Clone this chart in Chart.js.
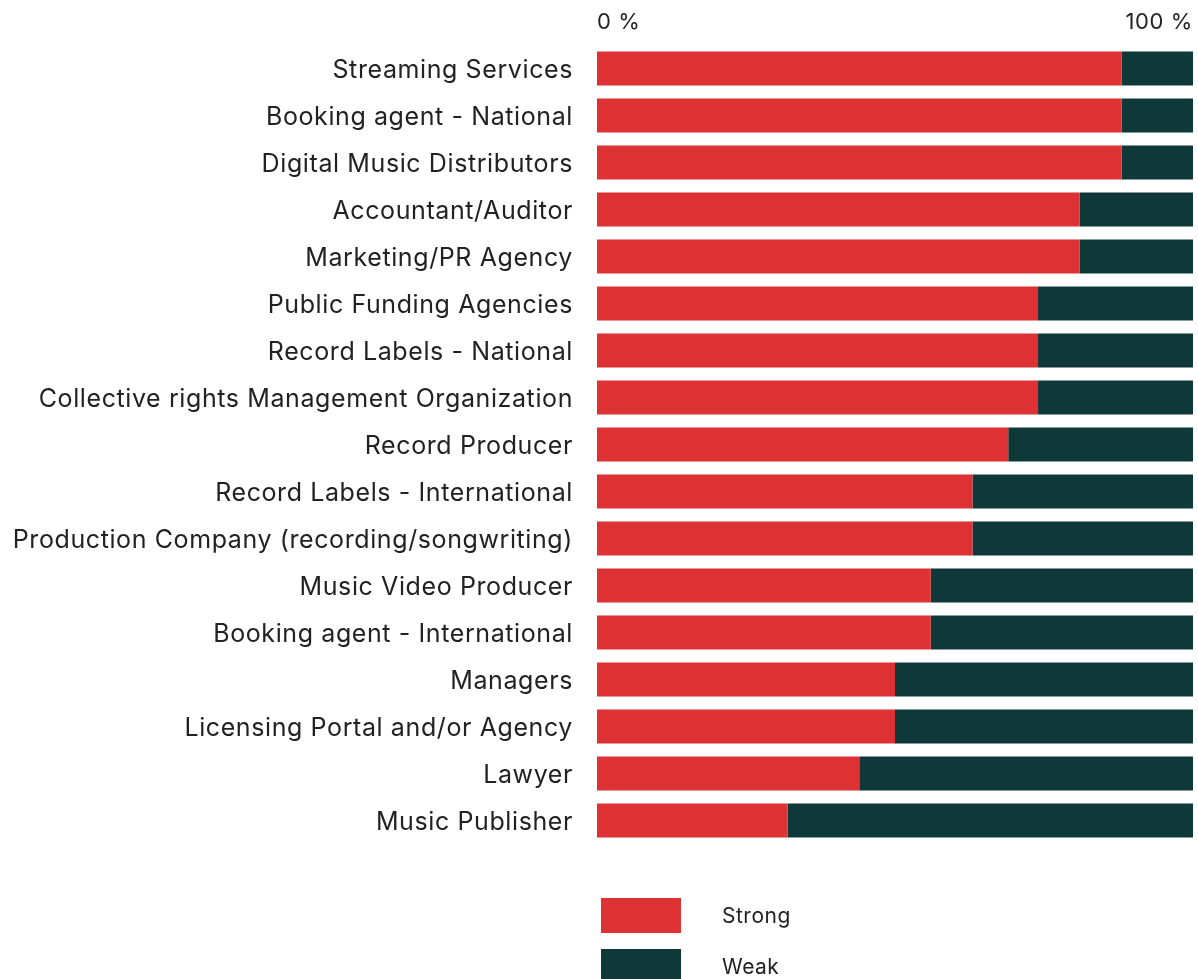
<!DOCTYPE html>
<html>
<head>
<meta charset="utf-8">
<script src="https://cdn.jsdelivr.net/npm/chart.js@4.4.0/dist/chart.umd.min.js"></script>
<style>
  html, body { margin: 0; padding: 0; background: #fff; }
  #wrap { position: relative; width: 1198px; height: 979px; overflow: hidden; }
  #legend { position: absolute; left: 601px; top: 898px; font-family: Inter, sans-serif; font-size: 21px; color: #222; letter-spacing: 0.5px; }
  .item { display: flex; align-items: center; height: 35px; margin-bottom: 16px; }
  .swatch { width: 80px; height: 35px; margin-right: 41px; }
</style>
</head>
<body>
<div id="wrap">
  <canvas id="chart" width="1198" height="979"></canvas>
  <div id="legend"></div>
</div>
<script>
const categories = [
  'Streaming Services',
  'Booking agent - National',
  'Digital Music Distributors',
  'Accountant/Auditor',
  'Marketing/PR Agency',
  'Public Funding Agencies',
  'Record Labels - National',
  'Collective rights Management Organization',
  'Record Producer',
  'Record Labels - International',
  'Production Company (recording/songwriting)',
  'Music Video Producer',
  'Booking agent - International',
  'Managers',
  'Licensing Portal and/or Agency',
  'Lawyer',
  'Music Publisher'
];
const strong = [88, 88, 88, 81, 81, 74, 74, 74, 69, 63, 63, 56, 56, 50, 50, 44, 32];
const weak   = [12, 12, 12, 19, 19, 26, 26, 26, 31, 37, 37, 44, 44, 50, 50, 56, 68];
const seriesNames = ['Strong', 'Weak'];
const seriesColors = ['#de3133', '#0f3838'];

const textColor = '#222';
const fontFamily = 'Inter, sans-serif';

// slightly wider tracking for all canvas text
const tracking = {
  id: 'tracking',
  beforeLayout: c => { c.ctx.letterSpacing = '0.6px'; },
  beforeDraw: c => { c.ctx.letterSpacing = '0.6px'; }
};

const chart = new Chart(document.getElementById('chart'), {
  type: 'bar',
  data: {
    labels: categories,
    datasets: [
      { label: seriesNames[0], data: strong, backgroundColor: seriesColors[0] },
      { label: seriesNames[1], data: weak, backgroundColor: seriesColors[1] }
    ]
  },
  plugins: [tracking],
  options: {
    indexAxis: 'y',
    responsive: false,
    animation: false,
    layout: { padding: { top: 0, right: 5, bottom: 135, left: 0 } },
    datasets: { bar: { categoryPercentage: 1, barPercentage: 0.723 } },
    plugins: {
      legend: { display: false },
      tooltip: { enabled: false }
    },
    scales: {
      x: {
        position: 'top',
        stacked: true,
        min: 0,
        max: 100,
        grid: { display: false },
        border: { display: false },
        afterFit: s => { s.height = 45; },
        ticks: {
          stepSize: 100,
          align: 'inner',
          maxRotation: 0,
          padding: 1,
          color: textColor,
          font: { family: fontFamily, size: 22 },
          callback: v => v + ' %'
        }
      },
      y: {
        stacked: true,
        grid: { display: false },
        border: { display: false },
        afterFit: s => { s.width = 597; },
        ticks: {
          padding: 16,
          labelOffset: 2,
          color: textColor,
          font: { family: fontFamily, size: 25 }
        }
      }
    }
  }
});

// legend stacked vertically under the bars
const legend = document.getElementById('legend');
seriesNames.forEach((name, i) => {
  const row = document.createElement('div');
  row.className = 'item';
  const sw = document.createElement('div');
  sw.className = 'swatch';
  sw.style.background = seriesColors[i];
  const label = document.createElement('span');
  label.textContent = name;
  row.appendChild(sw);
  row.appendChild(label);
  legend.appendChild(row);
});
</script>
</body>
</html>
